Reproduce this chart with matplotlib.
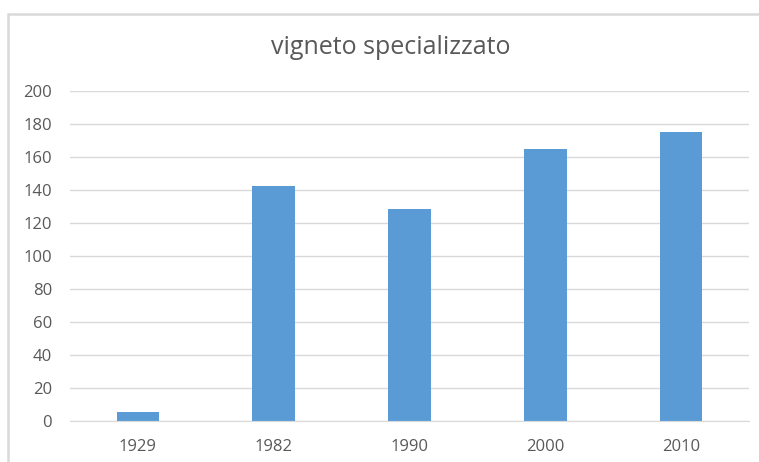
import matplotlib.pyplot as plt
from matplotlib.patches import Rectangle

# dati
anni = ['1929', '1982', '1990', '2000', '2010']
valori = [5.6, 142.4, 128.7, 165.0, 175.5]
y_ticks = [0, 20, 40, 60, 80, 100, 120, 140, 160, 180, 200]

plt.rcParams['font.family'] = ['Open Sans', 'DejaVu Sans']

fig = plt.figure(figsize=(7.59, 4.62), dpi=100)

# cornice dell'area grafico
fig.patches.append(Rectangle((8 / 759, -0.1), 1.2, 1 - 14 / 462 + 0.1,
                             transform=fig.transFigure, fill=False,
                             edgecolor='#D9D9D9', linewidth=1.8))

ax = fig.add_axes([70 / 759, 1 - 421.3 / 462, 679 / 759, 330 / 462])
x = range(len(anni))
ax.bar(x, valori, width=0.315, color='#5B9BD5', zorder=3)

ax.set_xlim(-0.5, len(anni) - 0.5)
ax.set_ylim(0, 200)
ax.set_yticks(y_ticks)
ax.set_xticks(list(x))
ax.set_xticklabels(anni)

ax.grid(axis='y', color='#D9D9D9', linewidth=1, zorder=0)
for s in ['top', 'right', 'left']:
    ax.spines[s].set_visible(False)
ax.spines['bottom'].set_color('#D9D9D9')
ax.spines['bottom'].set_zorder(4)
ax.tick_params(axis='both', length=0, labelsize=12, colors='#595959')
ax.tick_params(axis='y', pad=13)
ax.tick_params(axis='x', pad=13)

fig.text(391 / 759, 1 - 47 / 462, 'vigneto specializzato', ha='center', va='center',
         fontsize=18, color='#595959')

fig.savefig('out.png', dpi=100)
